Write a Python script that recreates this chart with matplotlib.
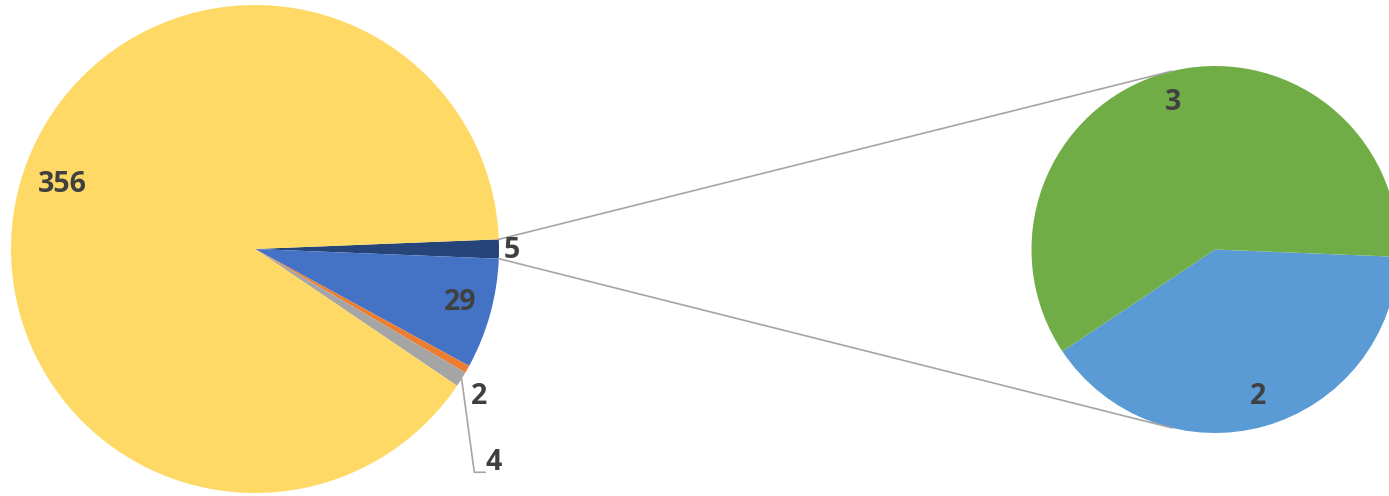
import numpy as np
import matplotlib
matplotlib.use("Agg")
import matplotlib.pyplot as plt

# Main pie: the "Other" slice (5) is broken out into the secondary pie.
main_labels = ["Other", "B", "C", "D", "A"]
main_values = [5, 29, 2, 4, 356]
main_colors = ["#264478", "#4472C4", "#ED7D31", "#A5A5A5", "#FFD966"]

# Secondary pie: breakdown of "Other".
sub_labels = ["E", "F"]
sub_values = [2, 3]
sub_colors = ["#5B9BD5", "#70AD47"]

W, H = 1389, 496
fig = plt.figure(figsize=(W / 100, H / 100), dpi=100)
ax = fig.add_axes([0, 0, 1, 1])
ax.set_xlim(0, W)
ax.set_ylim(0, H)
ax.set_aspect("equal")
ax.axis("off")

def py(y):
    return H - y

main_c = (255, py(249))
main_r = 244
sub_c = (1215, py(249.5))
sub_r = 183.5

other_span = main_values[0] / sum(main_values) * 360
wedges_main, _ = ax.pie(main_values, colors=main_colors, center=main_c, radius=main_r,
                        startangle=other_span / 2, counterclock=False,
                        wedgeprops=dict(linewidth=0))
ax.set_xlim(0, W)
ax.set_ylim(0, H)

wedges_sub, _ = ax.pie(sub_values, colors=sub_colors, center=sub_c, radius=sub_r,
                       startangle=357.7, counterclock=False,
                       wedgeprops=dict(linewidth=0))
ax.set_xlim(0, W)
ax.set_ylim(0, H)

# Connector lines between the "Other" slice and the secondary pie
w = wedges_main[0]
line_col = "#A5A5A5"
for ang_main, ang_sub in [(w.theta2, 103.6), (w.theta1, 256.4)]:
    x0 = main_c[0] + main_r * np.cos(np.radians(ang_main))
    y0 = main_c[1] + main_r * np.sin(np.radians(ang_main))
    x1 = sub_c[0] + sub_r * np.cos(np.radians(ang_sub))
    y1 = sub_c[1] + sub_r * np.sin(np.radians(ang_sub))
    ax.plot([x0, x1], [y0, y1], color=line_col, lw=1.2, zorder=3)

# Leader line for the small grey slice
ax.plot([461.7, 474.3, 485], [py(379.3), py(472.3), py(472.3)], color=line_col, lw=1.2, zorder=3)

txt = dict(fontfamily="Open Sans", fontweight="bold", fontsize=20.5, color="#404040",
           ha="center", va="center", zorder=4)
main_label_pos = {"A": (62, 184), "Other": (512, 251), "B": (460, 303), "C": (479.5, 397), "D": (494, 463)}
for lab, val in zip(main_labels, main_values):
    x, y = main_label_pos[lab]
    ax.text(x, py(y), str(val), **txt)

sub_label_pos = {"F": (1173, 103), "E": (1258.5, 397)}
for lab, val in zip(sub_labels, sub_values):
    x, y = sub_label_pos[lab]
    ax.text(x, py(y), str(val), **txt)

fig.savefig("out.png", dpi=100)
